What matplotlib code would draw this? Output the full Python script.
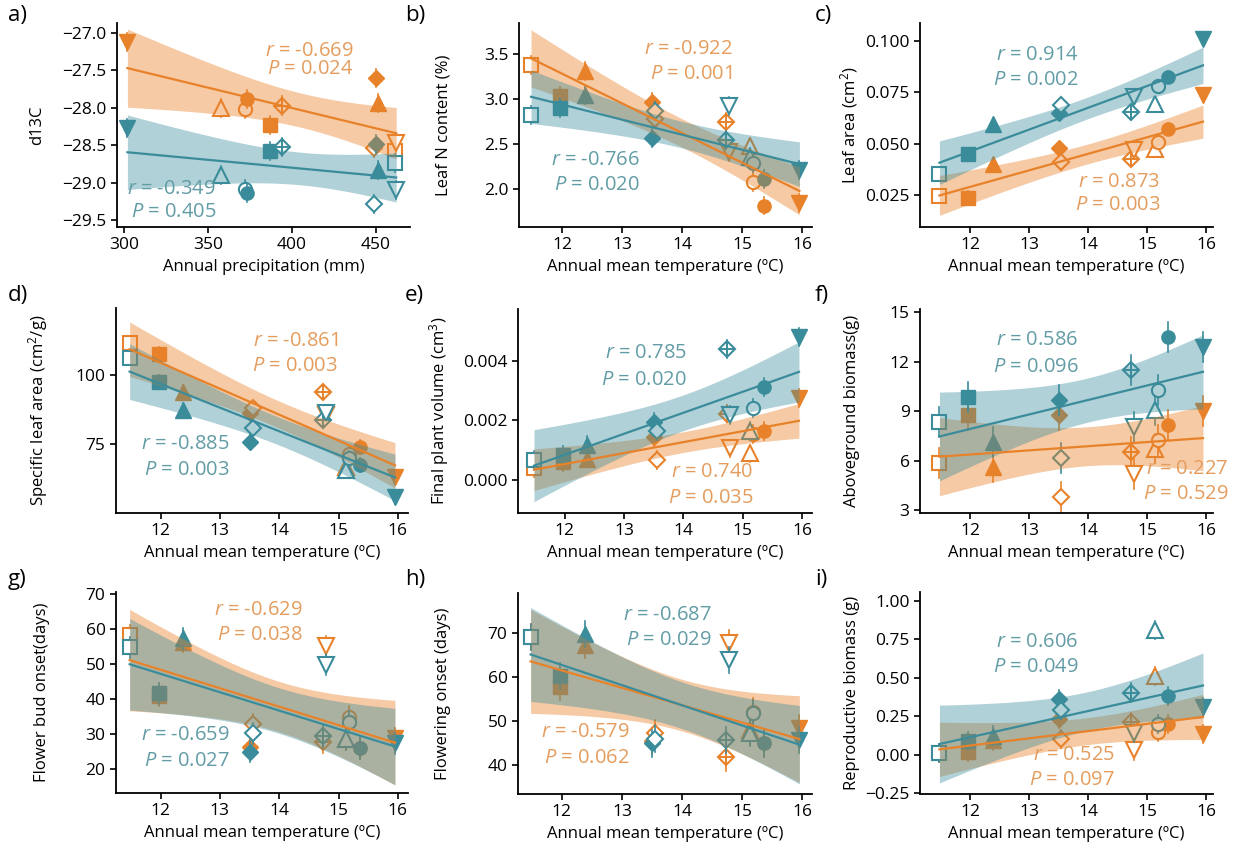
import matplotlib.pyplot as plt
import numpy as np

plt.rcParams['font.family'] = ['Open Sans', 'DejaVu Sans']
plt.rcParams['mathtext.fontset'] = 'custom'
plt.rcParams['mathtext.rm'] = 'Open Sans'
plt.rcParams['mathtext.it'] = 'Open Sans:italic'

ORANGE = '#E8822A'
TEAL = '#3B8C9B'
ORANGE_TXT = '#E49D5E'
TEAL_TXT = '#629CA5'

# sites: open sq, filled sq, filled tri up, filled diamond, open diamond, diamond plus,
#        open tri down, open tri up, open circle, filled circle, filled tri down
temp = [11.48, 11.97, 12.38, 13.50, 13.55, 14.73, 14.78, 15.13, 15.18, 15.36, 15.95]
precip = [461, 387, 451, 450, 449, 394, 462, 358, 372, 373, 302]
markers = ['s', 's', '^', 'D', 'D', 'D', 'v', '^', 'o', 'o', 'v']
filled = [False, True, True, True, False, False, False, False, False, True, True]
crossed = [False, False, False, False, False, True, False, False, False, False, False]

d13c_or = [-28.58, -28.23, -27.94, -27.60, -28.54, -27.97, -28.47, -28.00, -28.02, -27.88, -27.13]
d13c_te = [-28.74, -28.58, -28.83, -28.48, -29.28, -28.52, -29.10, -28.90, -29.08, -29.14, -28.27]
leafn_or = [3.38, 3.03, 3.31, 2.97, 2.78, 2.74, 2.41, 2.47, 2.07, 1.81, 1.84]
leafn_te = [2.82, 2.90, 3.05, 2.56, 2.87, 2.54, 2.92, 2.35, 2.28, 2.11, 2.21]
area_or = [0.0244, 0.0237, 0.0400, 0.0480, 0.0410, 0.0425, 0.0468, 0.0476, 0.0508, 0.0573, 0.0735]
area_te = [0.0350, 0.0448, 0.0597, 0.0650, 0.0687, 0.0654, 0.0727, 0.0695, 0.0780, 0.0825, 0.1010]
sla_or = [111.4, 107.5, 93.75, 86.2, 88.2, 94.0, 85.5, 66.9, 71.7, 74.2, 63.3]
sla_te = [106.0, 97.6, 87.4, 76.0, 80.8, 83.8, 86.2, 65.7, 70.0, 67.5, 56.1]
vol_or = [0.00039, 0.00060, 0.00071, 0.00144, 0.00065, 0.00223, 0.00105, 0.00088, 0.00155, 0.00164, 0.00276]
vol_te = [0.00065, 0.00082, 0.00118, 0.00195, 0.00164, 0.00440, 0.00217, 0.00163, 0.00242, 0.00313, 0.00482]
agb_or = [5.87, 8.77, 5.63, 8.77, 3.80, 6.54, 5.22, 6.74, 7.25, 8.16, 9.00]
agb_te = [8.36, 9.88, 7.15, 9.68, 6.17, 11.50, 8.05, 9.07, 10.28, 13.52, 12.90]
bud_or = [58.3, 41.0, 56.5, 26.4, 32.9, 27.7, 55.2, 28.6, 35.0, 26.0, 28.8]
bud_te = [54.8, 41.7, 57.4, 25.0, 30.3, 29.4, 49.8, 28.6, 33.6, 26.0, 27.4]
flw_or = [69.1, 57.8, 67.2, 45.5, 47.2, 41.7, 67.6, 47.9, 52.1, 44.9, 48.3]
flw_te = [69.1, 60.2, 69.8, 44.9, 46.0, 45.7, 63.8, 47.2, 51.7, 44.9, 45.7]
rep_or = [0.012, 0.018, 0.093, 0.232, 0.104, 0.211, 0.029, 0.511, 0.147, 0.200, 0.136]
rep_te = [0.012, 0.089, 0.125, 0.361, 0.290, 0.404, 0.142, 0.811, 0.200, 0.383, 0.312]

# approximate standard errors per panel
errs = [0.12, 0.10, 0.003, 2.5, 0.0003, 0.9, 3.0, 3.0, 0.06]

stats_or = [('-0.669', '0.024'), ('-0.922', '0.001'), ('0.873', '0.003'), ('-0.861', '0.003'),
            ('0.740', '0.035'), ('0.227', '0.529'), ('-0.629', '0.038'), ('-0.579', '0.062'),
            ('0.525', '0.097')]
stats_te = [('-0.349', '0.405'), ('-0.766', '0.020'), ('0.914', '0.002'), ('-0.885', '0.003'),
            ('0.785', '0.020'), ('0.586', '0.096'), ('-0.659', '0.027'), ('-0.687', '0.029'),
            ('0.606', '0.049')]

ylabels = ['d13C', 'Leaf N content (%)', 'Leaf area (cm$^{2}$)', 'Specific leaf area (cm$^{2}$/g)',
           'Final plant volume (cm$^{3}$)', 'Aboveground biomass(g)', 'Flower bud onset(days)',
           'Flowering onset (days)', 'Reproductive biomass (g)']
tlab = 'Annual mean temperature (ºC)'
xlabels = ['Annual precipitation (mm)'] + [tlab] * 8
letters = ['a)', 'b)', 'c)', 'd)', 'e)', 'f)', 'g)', 'h)', 'i)']

yticks = [[-29.5, -29.0, -28.5, -28.0, -27.5, -27.0], [2.0, 2.5, 3.0, 3.5],
          [0.025, 0.050, 0.075, 0.100], [75, 100], [0.000, 0.002, 0.004],
          [3, 6, 9, 12, 15], [20, 30, 40, 50, 60, 70], [40, 50, 60, 70],
          [-0.25, 0.00, 0.25, 0.50, 0.75, 1.00]]
yfmt = ['%.1f', '%.1f', '%.3f', '%d', '%.3f', '%d', '%d', '%d', '%.2f']
ylims = [(-29.59, -26.87), (1.57, 3.85), (0.0094, 0.1088), (50.4, 124.0), (-0.00113, 0.00576),
         (2.84, 15.2), (13.16, 70.67), (33.4, 79.07), (-0.255, 1.058)]
xlims = [(295.8, 470.2), (11.28, 16.16), (11.15, 16.12), (11.25, 16.17), (11.21, 16.17),
         (11.15, 16.12), (11.25, 16.17), (11.27, 16.16), (11.15, 16.12)]

# annotation anchors: (x right edge, y of r line, y of P line)
ann_or = [(436.5, -27.25, -27.49), (14.84, 3.556, 3.28), (15.23, 0.0313, 0.020), (14.99, 112.0, 103.0),
          (15.18, 0.00026, -0.00064), (16.38, 5.53, 4.01), (14.40, 65.4, 58.3), (13.13, 47.55, 41.5),
          (14.46, -0.003, -0.164)]
ann_te = [(354.8, -29.08, -29.39), (13.29, 2.317, 2.04), (13.84, 0.093, 0.0808), (13.17, 75.0, 65.75),
          (14.06, 0.00426, 0.00336), (13.84, 13.32, 11.7), (13.16, 29.8, 22.2), (14.49, 74.0, 68.3),
          (13.84, 0.736, 0.571)]

panels_y = [(d13c_or, d13c_te), (leafn_or, leafn_te), (area_or, area_te), (sla_or, sla_te),
            (vol_or, vol_te), (agb_or, agb_te), (bud_or, bud_te), (flw_or, flw_te), (rep_or, rep_te)]

# axes boxes in pixels: left, right, top, bottom; y-label centre x in pixels
boxes = [(117, 410, 23, 227), (519, 812, 23, 227), (920, 1213, 23, 227),
         (116, 408, 308, 513), (518, 812, 309, 513), (920, 1213, 309, 513),
         (116, 408, 592, 793), (518, 812, 593, 794), (920, 1213, 592, 794)]
ylab_x = [37, 443, 852, 42, 443, 852, 42, 443, 852]
letter_pos = [(8, 15), (405, 15), (815, 15), (8, 295), (405, 295), (815, 295),
              (8, 580), (405, 580), (815, 580)]

W, H = 1238, 850


def ols_band(x, y, xs):
    x = np.asarray(x, float)
    y = np.asarray(y, float)
    n = len(x)
    b, a = np.polyfit(x, y, 1)
    s = np.sqrt(np.sum((y - (a + b * x)) ** 2) / (n - 2))
    sxx = np.sum((x - x.mean()) ** 2)
    se = s * np.sqrt(1.0 / n + (xs - x.mean()) ** 2 / sxx)
    fit = a + b * xs
    return fit, fit - 2.262 * se, fit + 2.262 * se


def draw_points(ax, x, y, col, err):
    for k in range(len(x)):
        ax.plot([x[k], x[k]], [y[k] - err, y[k] + err], color=col, lw=1.2, zorder=2)
        m = markers[k]
        ms = {'s': 10, 'o': 9.5, '^': 12, 'v': 12, 'D': 8.5}[m]
        if filled[k]:
            ax.plot(x[k], y[k], m, ms=ms, color=col, mec=col, zorder=2)
        else:
            ax.plot(x[k], y[k], m, ms=ms, mfc='white', mec=col, mew=1.5, zorder=2)
        if crossed[k]:
            ax.plot(x[k], y[k], '+', ms=11.5, mec=col, mew=1.4, zorder=2)


fig = plt.figure(figsize=(W / 100, H / 100), dpi=100)

for i in range(9):
    l, r, t, b = boxes[i]
    ax = fig.add_axes([l / W, 1 - b / H, (r - l) / W, (b - t) / H])
    x = precip if i == 0 else temp
    y_or, y_te = panels_y[i]
    draw_points(ax, x, y_or, ORANGE, errs[i])
    draw_points(ax, x, y_te, TEAL, errs[i])
    xs = np.linspace(min(x), max(x), 120)
    for yy, col, al in [(y_or, ORANGE, 0.42), (y_te, TEAL, 0.40)]:
        fit, lo, hi = ols_band(x, yy, xs)
        ax.fill_between(xs, lo, hi, color=col, alpha=al, lw=0, zorder=3)
    for yy, col in [(y_or, ORANGE), (y_te, TEAL)]:
        fit, lo, hi = ols_band(x, yy, xs)
        ax.plot(xs, fit, color=col, lw=1.6, zorder=4)

    for (xr, yr, yp), (rv, pv), col in [(ann_or[i], stats_or[i], ORANGE_TXT),
                                        (ann_te[i], stats_te[i], TEAL_TXT)]:
        ax.text(xr, yr, '$r$ = ' + rv, color=col, fontsize=14.5, ha='right', va='center', zorder=5)
        ax.text(xr, yp, '$P$ = ' + pv, color=col, fontsize=14.5, ha='right', va='center', zorder=5)

    ax.set_xlim(xlims[i])
    ax.set_ylim(ylims[i])
    ax.set_yticks(yticks[i])
    ax.set_yticklabels([(yfmt[i] % v).replace('-', '\u2212') for v in yticks[i]])
    if i == 0:
        ax.set_xticks([300, 350, 400, 450])
    else:
        ax.set_xticks([12, 13, 14, 15, 16])
    ax.set_xlabel(xlabels[i], fontsize=12, labelpad=4)
    ax.set_ylabel(ylabels[i], fontsize=12)
    ax.yaxis.set_label_coords((ylab_x[i] + 8 - l) / (r - l), 0.5)
    for sp in ['top', 'right']:
        ax.spines[sp].set_visible(False)
    for sp in ['left', 'bottom']:
        ax.spines[sp].set_linewidth(1.3)
    ax.tick_params(direction='out', length=4, width=1.2, labelsize=12.5, colors='black')
    ax.patch.set_alpha(0)

    fig.text(letter_pos[i][0] / W, 1 - letter_pos[i][1] / H, letters[i], fontsize=16,
             ha='left', va='center')

fig.savefig('out.png', dpi=100)
